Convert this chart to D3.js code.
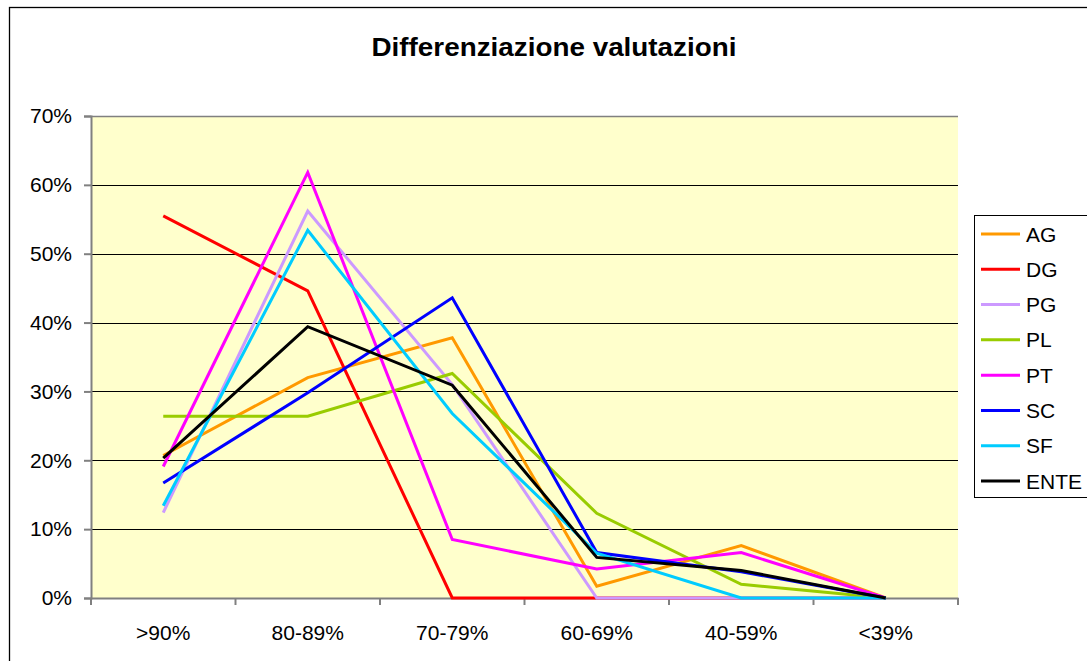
<!DOCTYPE html>
<html>
<head>
<meta charset="utf-8">
<script src="https://cdn.jsdelivr.net/npm/d3@7"></script>
<style>
  html, body { margin: 0; padding: 0; background: #fff; }
  svg { display: block; }
  text { font-family: "Liberation Sans", Arial, sans-serif; }
</style>
</head>
<body>
<svg id="chart" width="1087" height="661"></svg>
<script>
const categories = [">90%", "80-89%", "70-79%", "60-69%", "40-59%", "<39%"];
const seriesNames = ["AG", "DG", "PG", "PL", "PT", "SC", "SF", "ENTE"];
const seriesColors = ["#FF9900", "#FF0000", "#CC99FF", "#99CC00", "#FF00FF", "#0000FF", "#00CCFF", "#000000"];
const AG   = [20.7, 32.0, 37.8, 1.7, 7.6, 0];
const DG   = [55.5, 44.6, 0, 0, 0, 0];
const PG   = [12.4, 56.2, 31.0, 0, 0, 0];
const PL   = [26.4, 26.4, 32.6, 12.3, 2.0, 0];
const PT   = [19.1, 61.8, 8.5, 4.2, 6.6, 0];
const SC   = [16.7, 29.8, 43.6, 6.6, 3.8, 0];
const SF   = [13.4, 53.4, 26.8, 6.5, 0, 0];
const ENTE = [20.3, 39.4, 30.9, 5.9, 4.0, 0];
const seriesValues = [AG, DG, PG, PL, PT, SC, SF, ENTE];
const yTicks = [0, 10, 20, 30, 40, 50, 60, 70];
const title = "Differenziazione valutazioni";

const svg = d3.select("#chart");
const plot = { left: 91, top: 116, right: 958, bottom: 598 };

// outer chart border
svg.append("rect").attr("x", 9.5).attr("y", 7.5).attr("width", 1100).attr("height", 700)
  .attr("fill", "#fff").attr("stroke", "#000").attr("stroke-width", 1.3);

const x = d3.scaleBand().domain(categories).range([plot.left, plot.right]).padding(0);
const y = d3.scaleLinear().domain([0, 70]).range([plot.bottom, plot.top]);

// plot area
svg.append("rect").attr("x", plot.left).attr("y", plot.top)
  .attr("width", plot.right - plot.left).attr("height", plot.bottom - plot.top)
  .attr("fill", "#FFFFCC");

// gridlines
svg.append("g").selectAll("line").data(yTicks.filter(d => d > 0)).join("line")
  .attr("x1", plot.left).attr("x2", plot.right)
  .attr("y1", d => Math.round(y(d)) + 0.5).attr("y2", d => Math.round(y(d)) + 0.5)
  .attr("stroke", "#000").attr("stroke-width", 1);

// top and right border of plot area (top line gray)
svg.append("line").attr("x1", plot.left).attr("x2", plot.right)
  .attr("y1", plot.top + 0.5).attr("y2", plot.top + 0.5).attr("stroke", "#808080").attr("stroke-width", 1.5);

// Y axis
const yAxis = d3.axisLeft(y).tickValues(yTicks).tickFormat(d => d + "%").tickSize(7).tickPadding(12);
const gy = svg.append("g").attr("transform", `translate(${plot.left},0)`).call(yAxis);
gy.select(".domain").attr("stroke", "#808080").attr("stroke-width", 2);
gy.selectAll(".tick line").attr("stroke", "#808080").attr("stroke-width", 2);
gy.selectAll(".tick text").attr("font-size", 21).attr("fill", "#000")
  .attr("font-family", "'Liberation Sans', Arial, sans-serif");

// X axis
const xAxis = d3.axisBottom(x).tickSize(0).tickPadding(27);
const gx = svg.append("g").attr("transform", `translate(0,${plot.bottom})`).call(xAxis);
gx.select(".domain").attr("stroke", "#808080").attr("stroke-width", 2);
gx.selectAll(".tick text").attr("font-size", 21).attr("fill", "#000")
  .attr("font-family", "'Liberation Sans', Arial, sans-serif");
// category boundary ticks
const bounds = categories.map(c => x(c)).concat([x(categories[categories.length - 1]) + x.bandwidth()]);
svg.append("g").selectAll("line").data(bounds).join("line")
  .attr("x1", d => d).attr("x2", d => d)
  .attr("y1", plot.bottom).attr("y2", plot.bottom + 7)
  .attr("stroke", "#808080").attr("stroke-width", 2);

// lines
const line = d3.line()
  .x((d, i) => x(categories[i]) + x.bandwidth() / 2)
  .y(d => y(d));
svg.append("g").selectAll("path").data(seriesValues).join("path")
  .attr("d", d => line(d))
  .attr("fill", "none")
  .attr("stroke", (d, i) => seriesColors[i])
  .attr("stroke-width", 3)
  .attr("stroke-linejoin", "miter");

// title
svg.append("text").attr("x", 554).attr("y", 56).attr("text-anchor", "middle")
  .attr("font-size", 26).attr("font-weight", "bold")
  .attr("textLength", 365).attr("lengthAdjust", "spacingAndGlyphs")
  .text(title);

// legend
const lg = svg.append("g");
lg.append("rect").attr("x", 974.5).attr("y", 215.5).attr("width", 140).attr("height", 282)
  .attr("fill", "#fff").attr("stroke", "#000").attr("stroke-width", 1);
const ly = d3.scalePoint().domain(seriesNames).range([234, 481]);
const items = lg.selectAll("g").data(seriesNames).join("g")
  .attr("transform", d => `translate(0,${ly(d)})`);
items.append("line").attr("x1", 981).attr("x2", 1020).attr("y1", 0).attr("y2", 0)
  .attr("stroke", (d, i) => seriesColors[i]).attr("stroke-width", 3);
items.append("text").attr("x", 1026).attr("y", 0).attr("dy", "0.36em")
  .attr("font-size", 21).text(d => d);
</script>
</body>
</html>
